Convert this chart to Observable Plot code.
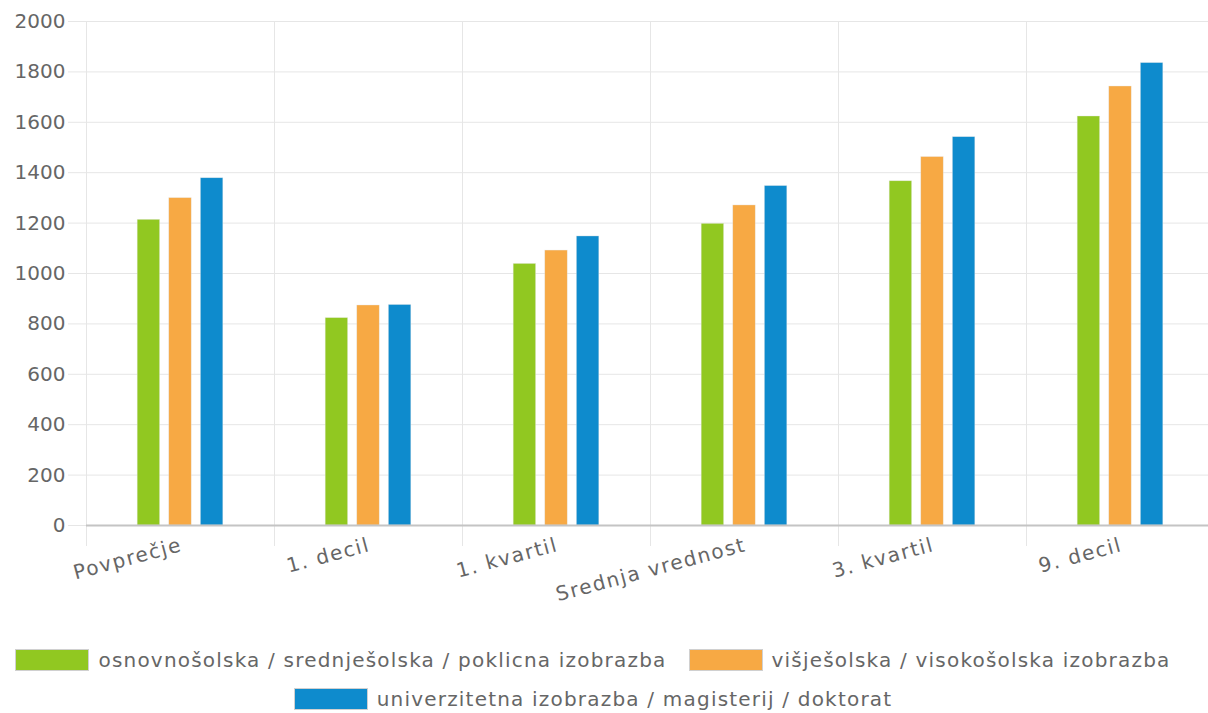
<!DOCTYPE html>
<html>
<head>
<meta charset="utf-8">
<script src="https://cdn.jsdelivr.net/npm/d3@7"></script>
<script src="https://cdn.jsdelivr.net/npm/@observablehq/plot@0.6"></script>
<style>
  html, body { margin: 0; padding: 0; background: #fff; }
  body { font-family: "DejaVu Sans", sans-serif; width: 1208px; height: 713px; overflow: hidden; }
  #legend { width: 1186px; display: flex; flex-wrap: wrap; justify-content: center; padding-top: 10px; }
  .item { display: flex; align-items: center; height: 39px; margin: 0 11px; font-size: 20px; letter-spacing: 1.2px; color: #666; white-space: nowrap; }
  .sw { width: 72px; height: 20px; border: 1px solid #d0d0d0; margin-right: 9px; box-sizing: content-box; }
  .fxlab text { letter-spacing: 1.6px; }
</style>
</head>
<body>
<div id="chart"></div>
<div id="legend"></div>
<script>
const categories = ["Povprečje", "1. decil", "1. kvartil", "Srednja vrednost", "3. kvartil", "9. decil"];
const series = [
  "osnovnošolska / srednješolska / poklicna izobrazba",
  "višješolska / visokošolska izobrazba",
  "univerzitetna izobrazba / magisterij / doktorat"
];
const colors = ["#91c821", "#f7a944", "#0e8bcd"];
const valuesBasic = [1213, 823, 1038, 1197, 1366, 1623];
const valuesHigher = [1299, 873, 1091, 1270, 1462, 1742];
const valuesUniversity = [1378, 875, 1147, 1347, 1541, 1835];
const yTicks = [0, 200, 400, 600, 800, 1000, 1200, 1400, 1600, 1800, 2000];

const seriesValues = [valuesBasic, valuesHigher, valuesUniversity];
const data = categories.flatMap((c, i) =>
  series.map((s, j) => ({category: c, series: s, value: seriesValues[j][i]}))
);

const chart = Plot.plot({
  width: 1208,
  height: 630,
  marginLeft: 85,
  marginRight: -7,
  marginTop: 21,
  marginBottom: 85,
  style: {fontFamily: "DejaVu Sans", fontSize: "20px", color: "#666", background: "#fff", overflow: "visible"},
  fx: {domain: categories, padding: 0, label: null},
  x: {domain: series, paddingInner: 0.29, paddingOuter: 1.62, round: false, axis: null},
  y: {domain: [0, 2000], range: [525, 21], label: null},
  color: {domain: series, range: colors},
  marks: [
    Plot.gridY(yTicks, {stroke: "#e6e6e6", strokeOpacity: 1}),
    Plot.frame({anchor: "left", stroke: "#e6e6e6", strokeOpacity: 1}),
    Plot.axisY(yTicks, {tickSize: 18, stroke: "#e6e6e6", tickPadding: 3, fill: "#666", fontSize: 20, label: null, tickFormat: d => String(d)}),
    Plot.barY(data, {fx: "category", x: "series", y: "value", fill: "series", stroke: "#e8e8e8", strokeOpacity: 0.6, strokeWidth: 0.6}),
    Plot.ruleY([0], {stroke: "#c4c4c4", strokeWidth: 2}),
    Plot.axisFx({anchor: "bottom", tickRotate: -15, tickSize: 0, tickPadding: 3, dx: 1, dy: -4, fontSize: 20, fill: "#666", label: null, className: "fxlab"})
  ]
});
document.getElementById("chart").appendChild(chart);

const legend = document.getElementById("legend");
series.forEach((s, j) => {
  const item = document.createElement("div");
  item.className = "item";
  const sw = document.createElement("span");
  sw.className = "sw";
  sw.style.background = colors[j];
  const t = document.createElement("span");
  t.textContent = s;
  item.appendChild(sw);
  item.appendChild(t);
  legend.appendChild(item);
});
</script>
</body>
</html>
